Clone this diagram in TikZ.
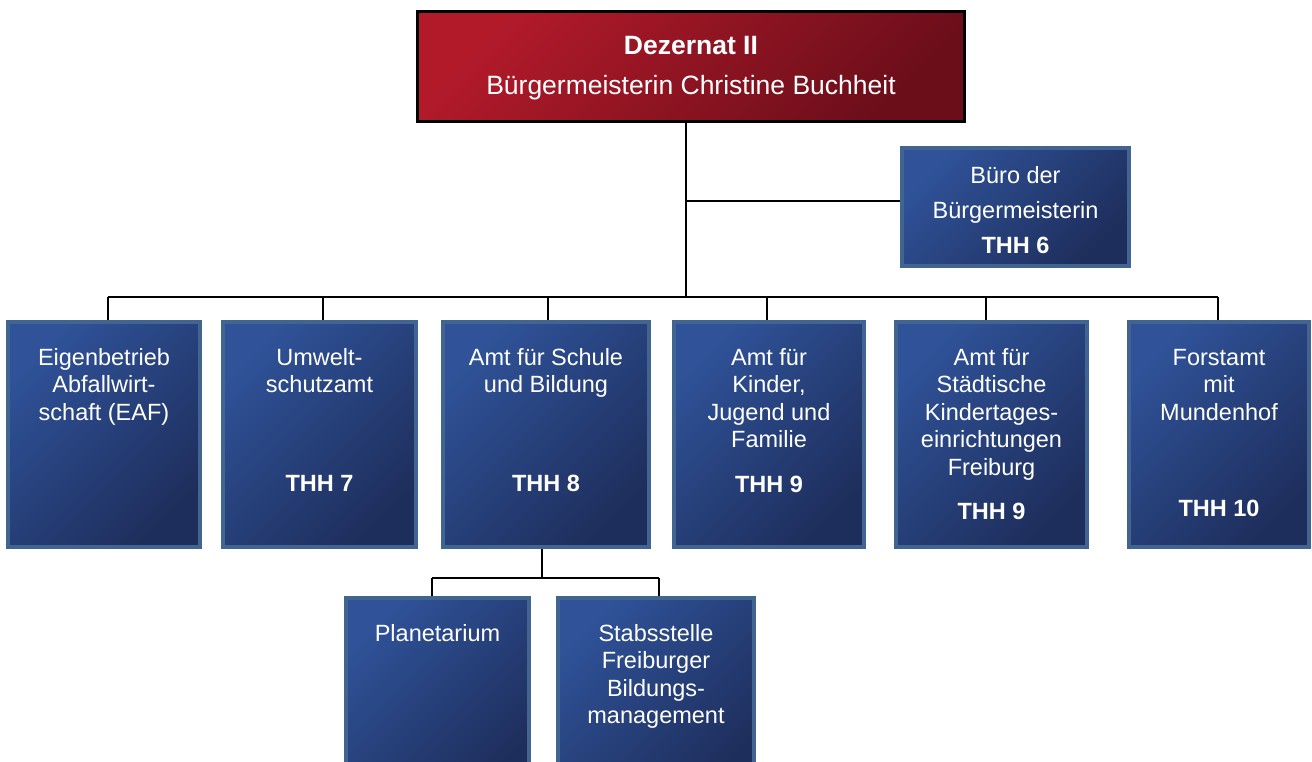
\documentclass[tikz,border=0pt]{standalone}
\usepackage{fontspec}
\setmainfont{Liberation Sans}
\usetikzlibrary{backgrounds}
\definecolor{bluetl}{RGB}{47,82,152}
\definecolor{bluebr}{RGB}{30,46,92}
\definecolor{blueedge}{RGB}{66,100,145}
\definecolor{redtl}{RGB}{178,26,42}
\definecolor{redbr}{RGB}{108,14,26}
\newcommand{\orgtext}[3]{\parbox[c][#2][t]{#1}{\centering\rule{0pt}{43pt}#3}}
\tikzset{
  orgbox/.style={draw=blueedge, line width=4pt, inner sep=0pt, outer sep=0pt,
    top color=bluetl, bottom color=bluebr, shading angle=45, text=white,
    font=\fontsize{23.5}{27.5}\selectfont},
  headbox/.style={draw=black, line width=3pt, inner sep=0pt, outer sep=0pt,
    top color=redtl, bottom color=redbr, shading angle=45, text=white,
    font=\fontsize{26.5}{40}\selectfont},
  link/.style={line width=2pt, draw=black}
}
\begin{document}
\begin{tikzpicture}[x=1pt, y=-1pt]
\useasboundingbox (0,0) rectangle (1312,762);
\node[headbox, minimum width=547pt, minimum height=110pt] (top) at (691,66.5)
  {\parbox[c][110pt][t]{547pt}{\centering\rule{0pt}{43pt}\textbf{Dezernat II}\\B\"urgermeisterin Christine Buchheit}};
\node[orgbox, minimum width=227pt, minimum height=118pt, font=\fontsize{23.5}{35}\selectfont] (buero) at (1015.5,207)
  {\parbox[c][118pt][t]{227pt}{\centering\rule{0pt}{35.5pt}B\"uro der\\B\"urgermeisterin\\\textbf{THH 6}}};
\node[orgbox, minimum width=192pt, minimum height=225pt] (b1) at (104,434.5)
  {\orgtext{192pt}{225pt}{Eigenbetrieb\\Abfallwirt-\\schaft (EAF)}};
\node[orgbox, minimum width=193pt, minimum height=225pt] (b2) at (319.5,434.5)
  {\orgtext{193pt}{225pt}{Umwelt-\\schutzamt\\[71.5pt]\textbf{THH 7}}};
\node[orgbox, minimum width=206pt, minimum height=225pt] (b3) at (546,434.5)
  {\orgtext{206pt}{225pt}{Amt f\"ur Schule\\und Bildung\\[71.5pt]\textbf{THH 8}}};
\node[orgbox, minimum width=190pt, minimum height=225pt] (b4) at (769,434.5)
  {\orgtext{190pt}{225pt}{Amt f\"ur\\Kinder,\\Jugend und\\Familie\\[17.5pt]\textbf{THH 9}}};
\node[orgbox, minimum width=191pt, minimum height=225pt] (b5) at (991.5,434.5)
  {\orgtext{191pt}{225pt}{Amt f\"ur\\St\"adtische\\Kindertages-\\einrichtungen\\Freiburg\\[16.5pt]\textbf{THH 9}}};
\node[orgbox, minimum width=180pt, minimum height=225pt] (b6) at (1219,434.5)
  {\orgtext{180pt}{225pt}{Forstamt\\mit\\Mundenhof\\[68.5pt]\textbf{THH 10}}};
\node[orgbox, minimum width=183pt, minimum height=196pt] (p1) at (437.5,696)
  {\orgtext{183pt}{196pt}{Planetarium}};
\node[orgbox, minimum width=196pt, minimum height=196pt] (p2) at (656,696)
  {\orgtext{196pt}{196pt}{Stabsstelle\\Freiburger\\Bildungs-\\management}};
\begin{scope}[on background layer]
  \coordinate (bus) at (686,297);
  \coordinate (subbus) at (542,578);
  \coordinate (topdrop) at ([xshift=-5pt]top.south);
  \coordinate (bj) at ([yshift=6pt]buero.west);
  \draw[link] (topdrop) -- (topdrop |- bus);
  \draw[link] ([xshift=4pt]b1.north |- bus) -- ([xshift=-1pt]b6.north |- bus);
  \foreach \n/\s in {b1/4,b2/3.5,b3/2,b4/-2,b5/-5.5,b6/-1}
    \draw[link] ([xshift=\s pt]\n.north) -- ([xshift=\s pt]\n.north |- bus);
  \draw[link] (bj) -- (bj -| topdrop);
  \draw[link] ([xshift=-4pt]b3.south) -- ([xshift=-4pt]b3.south |- subbus);
  \draw[link] ([xshift=-5.5pt]p1.north |- subbus) -- ([xshift=3pt]p2.north |- subbus);
  \draw[link] ([xshift=-5.5pt]p1.north) -- ([xshift=-5.5pt]p1.north |- subbus);
  \draw[link] ([xshift=3pt]p2.north) -- ([xshift=3pt]p2.north |- subbus);
\end{scope}
\end{tikzpicture}
\end{document}
